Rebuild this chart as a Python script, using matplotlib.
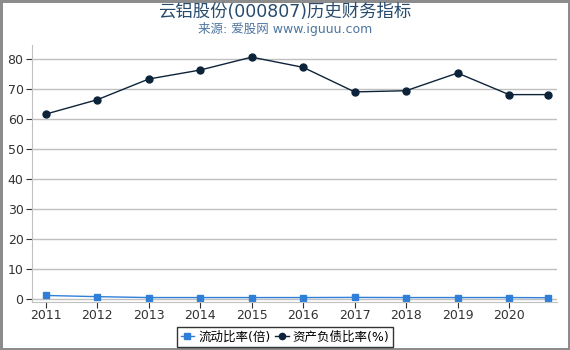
#!/usr/bin/env python3
"""
云铝股份(000807) 历史财务指标 - 流动比率 / 资产负债比率
"""
import matplotlib
matplotlib.use("Agg")
import matplotlib.pyplot as plt

plt.rcParams["font.family"] = ["DejaVu Sans", "Noto Sans CJK SC"]

# ----- dados -----
anos = [2011, 2012, 2013, 2014, 2015, 2016, 2017, 2018, 2019, 2020, 2020.75]
rotulos_x = ["2011", "2012", "2013", "2014", "2015", "2016", "2017", "2018", "2019", "2020"]
liquidez = [1.2, 0.8, 0.5, 0.5, 0.5, 0.5, 0.55, 0.5, 0.5, 0.5, 0.45]
endividamento = [61.7, 66.5, 73.4, 76.4, 80.7, 77.3, 69.1, 69.5, 75.4, 68.2, 68.2]
yticks = [0, 10, 20, 30, 40, 50, 60, 70, 80]

titulo = "云铝股份(000807)历史财务指标"
subtitulo = "来源: 爱股网 www.iguuu.com"
serie1 = "流动比率(倍)"
serie2 = "资产负债比率(%)"

fig = plt.figure(figsize=(5.7, 3.5), dpi=100)
fig.patch.set_edgecolor("#8c8c8c")
fig.patch.set_linewidth(2.2)
ax = fig.add_axes([0.056, 0.137, 0.921, 0.734])

ax.plot(anos, liquidez, color="#2f7ed8", marker="s", markersize=5, linewidth=1, label=serie1)
ax.plot(anos, endividamento, color="#0d233a", marker="o", markersize=5, linewidth=1, label=serie2)

ax.set_xlim(2010.73, 2020.93)
ax.set_ylim(-1, 84.7)
ax.set_yticks(yticks)
ax.set_xticks(anos[:-1])
ax.set_xticklabels(rotulos_x)
ax.tick_params(axis="both", labelsize=9, colors="#333333", length=4, width=0.8)
ax.tick_params(axis="y", pad=2)
ax.tick_params(axis="x", pad=1)
for t in ax.get_xticklines() + ax.get_yticklines():
    t.set_color("#aaaaaa")
ax.grid(axis="y", color="#c0c0c0", linewidth=1)
ax.set_axisbelow(True)
for s in ["top", "right"]:
    ax.spines[s].set_visible(False)
ax.spines["left"].set_color("#c0c0c0")
ax.spines["bottom"].set_color("#c0c0c0")

fig.text(0.5, 0.965, titulo, ha="center", va="center", fontsize=12.5, color="#274b6d")
fig.text(0.5, 0.918, subtitulo, ha="center", va="center", fontsize=9, color="#4d759e")

leg = fig.legend(loc="center", bbox_to_anchor=(0.5, 0.037), ncol=2, fontsize=9,
                 frameon=True, fancybox=False, handlelength=1.1, handletextpad=0.3,
                 columnspacing=0.4, borderpad=0.3, borderaxespad=0.2)
leg.get_frame().set_edgecolor("black")
leg.get_frame().set_linewidth(1)
for h in leg.legend_handles:
    h.set_markersize(4.5)

plt.savefig("out.png", dpi=100, edgecolor=fig.get_edgecolor())
